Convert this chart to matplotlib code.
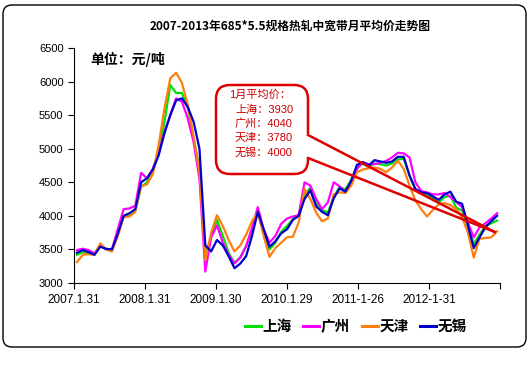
import numpy as np
import matplotlib
matplotlib.use('Agg')
import matplotlib.pyplot as plt
from matplotlib.patches import FancyBboxPatch
from matplotlib.lines import Line2D

plt.rcParams['font.family'] = ['Liberation Sans', 'Noto Sans CJK SC', 'DejaVu Sans']

# monthly average prices, 2007.1 - 2013.1 (yuan/ton)
months = np.arange(73)
shanghai = [3420, 3460, 3440, 3420, 3560, 3500, 3490, 3750, 4000, 4000,
            4080, 4430, 4500, 4650, 4950, 5400, 5950, 5830, 5830, 5620,
            5150, 4700, 3390, 3700, 3940, 3700, 3450, 3300, 3380, 3550,
            3800, 4100, 3760, 3500, 3600, 3760, 3850, 3950, 4020, 4300,
            4420, 4180, 4090, 4050, 4280, 4430, 4390, 4540, 4720, 4780,
            4730, 4780, 4770, 4750, 4780, 4840, 4850, 4600, 4390, 4330,
            4310, 4270, 4200, 4280, 4300, 4120, 4080, 3850, 3580, 3720,
            3850, 3890, 3930]
guangzhou = [3490, 3510, 3490, 3440, 3560, 3500, 3500, 3800, 4100, 4110,
             4150, 4640, 4560, 4700, 4950, 5250, 5500, 5750, 5700, 5450,
             5100, 4550, 3170, 3680, 3860, 3600, 3420, 3290, 3380, 3550,
             3820, 4130, 3800, 3600, 3700, 3880, 3960, 3990, 4010, 4500,
             4450, 4250, 4100, 4200, 4500, 4440, 4360, 4480, 4700, 4800,
             4770, 4770, 4790, 4820, 4870, 4940, 4930, 4870, 4500, 4370,
             4350, 4320, 4320, 4340, 4280, 4210, 4130, 3900, 3680, 3830,
             3890, 3960, 4040]
tianjin = [3310, 3420, 3430, 3420, 3590, 3500, 3470, 3700, 3980, 3990,
           4060, 4440, 4470, 4620, 5050, 5600, 6050, 6130, 5980, 5650,
           5180, 4650, 3340, 3750, 4010, 3850, 3640, 3470, 3560, 3720,
           3920, 4050, 3700, 3390, 3520, 3600, 3680, 3690, 3900, 4400,
           4250, 4050, 3920, 3960, 4320, 4350, 4340, 4450, 4650, 4690,
           4710, 4720, 4700, 4650, 4720, 4820, 4700, 4450, 4230, 4100,
           3990, 4090, 4170, 4190, 4160, 4100, 3980, 3750, 3380, 3660,
           3670, 3680, 3770]
wuxi = [3450, 3490, 3460, 3420, 3540, 3510, 3500, 3730, 4000, 4040,
        4100, 4500, 4560, 4690, 4900, 5230, 5500, 5720, 5750, 5620,
        5400, 5000, 3560, 3470, 3640, 3560, 3400, 3220, 3290, 3400,
        3700, 4060, 3800, 3540, 3620, 3740, 3800, 3940, 4000, 4250,
        4380, 4140, 4060, 4010, 4260, 4410, 4360, 4520, 4760, 4800,
        4750, 4830, 4810, 4790, 4810, 4880, 4880, 4600, 4400, 4350,
        4340, 4290, 4240, 4320, 4360, 4210, 4180, 3860, 3520, 3680,
        3830, 3920, 4000]

names = ['上海', '广州', '天津', '无锡']
colors = ['#00e000', '#ff00ff', '#ff7f0e', '#0000cc']
xlabels = ['2007.1.31', '2008.1.31', '2009.1.30', '2010.1.29', '2011-1-26', '2012-1-31', '']
jan_avg = [3930, 4040, 3780, 4000]

W, H = 531, 384
fig = plt.figure(figsize=(W / 100, H / 100), dpi=100)
fx = lambda px: px / W
fy = lambda py: 1 - py / H

ax = fig.add_axes([fx(74), fy(283), 426 / W, 235 / H])
for series, name, c in zip([shanghai, guangzhou, tianjin, wuxi], names, colors):
    ax.plot(months, series, color=c, lw=1.6, label=name)

ax.set_xlim(-0.5, 72.5)
ax.set_ylim(3000, 6500)
ax.set_yticks(np.arange(3000, 6501, 500))
ax.set_xticks(-0.5 + np.arange(7) * 73 / 6)
ax.set_xticklabels(xlabels)
ax.tick_params(axis='both', labelsize=8, length=4, width=0.8, direction='out')
ax.tick_params(axis='x', labelsize=8.5, pad=4)
for s in ['top', 'right']:
    ax.spines[s].set_visible(False)
for s in ['left', 'bottom']:
    ax.spines[s].set_linewidth(0.8)

# title and unit
fig.text(fx(290), fy(26), '2007-2013年685*5.5规格热轧中宽带月平均价走势图',
         ha='center', va='center', fontsize=8.5, fontweight='bold',
         family=['Noto Sans CJK SC'])
fig.text(fx(90), fy(59), '单位：元/吨', ha='left', va='center', fontsize=10,
         fontweight='bold', family=['Noto Sans CJK SC'])

# outer frame
frame = FancyBboxPatch((fx(3), fy(347)), 523 / W, 342 / H,
                       boxstyle='round,pad=0,rounding_size=%f' % (9 / W),
                       mutation_aspect=W / H, transform=fig.transFigure,
                       fill=False, edgecolor='black', lw=1.0)
fig.add_artist(frame)

# callout
red = '#e00000'
box = FancyBboxPatch((fx(216), fy(174)), 92 / W, 89 / H,
                     boxstyle='round,pad=0,rounding_size=%f' % (14 / W),
                     mutation_aspect=W / H, transform=fig.transFigure,
                     facecolor='white', edgecolor=red, lw=1.8, zorder=5)
fig.add_artist(box)
gap = Line2D([fx(308), fx(308)], [fy(136), fy(157)], color='white', lw=3,
             transform=fig.transFigure, zorder=6)
fig.add_artist(gap)
tip = fig.transFigure.inverted().transform(ax.transData.transform((71.6, 3760)))
for py in [135, 158]:
    fig.add_artist(Line2D([fx(308), tip[0]], [fy(py), tip[1]], color=red, lw=1.8,
                          transform=fig.transFigure, zorder=7))

fig.text(fx(229), fy(95), '1月平均价：', ha='left', va='center', fontsize=8,
         color='#cc0000', zorder=8, family=['Liberation Sans', 'Noto Sans CJK SC'])
for k, (name, v) in enumerate(zip(names, jan_avg)):
    fig.text(fx(235), fy(109.5 + 14.4 * k), '%s：%d' % (name, v), ha='left',
             va='center', fontsize=8, color='#cc0000', zorder=8,
             family=['Liberation Sans', 'Noto Sans CJK SC'])

# legend
handles = [Line2D([], [], color=c, lw=2.2) for c in colors]
leg = fig.legend(handles, names, loc='center', bbox_to_anchor=(fx(356), fy(326)),
                 ncol=4, frameon=False, handlelength=1.1, handletextpad=0.1,
                 columnspacing=0.8,
                 prop={'family': 'Noto Sans CJK SC', 'weight': 'bold', 'size': 10.5})

fig.savefig('out.png', dpi=100, facecolor='white')
